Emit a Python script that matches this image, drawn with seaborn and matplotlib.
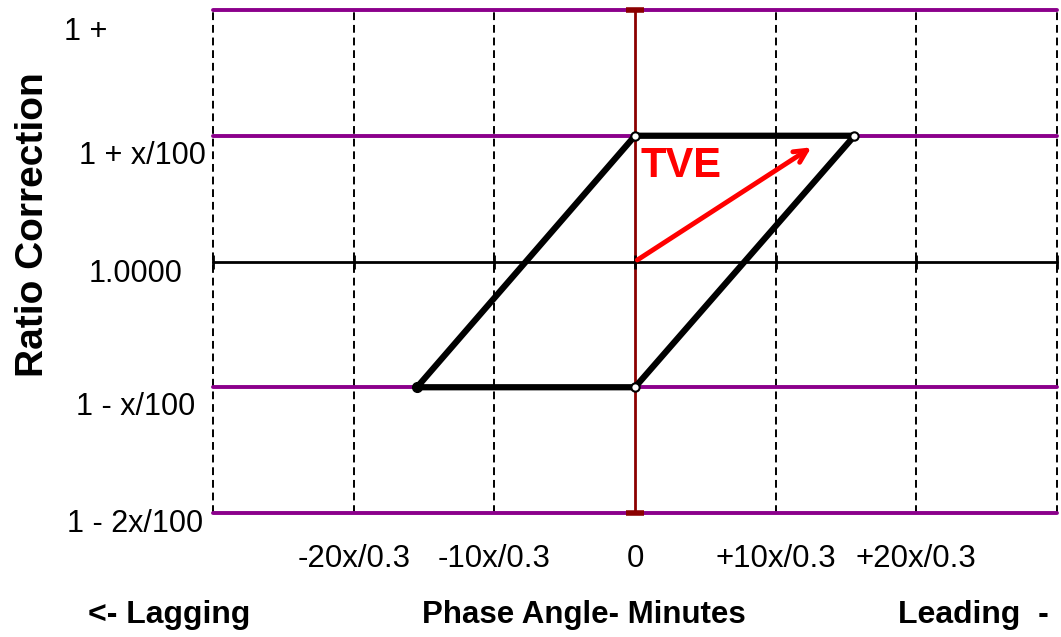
import matplotlib
matplotlib.use("agg")
import matplotlib.pyplot as plt
import matplotlib.transforms as mtransforms
import seaborn as sns
import pandas as pd

# grid positions (x in units of 10x/0.3, y in units of x/100)
x_grid = [-3, -2, -1, 1, 2, 3]
y_purple = [-2, -1, 1, 2]
y_ticks = [-2, -1, 0, 1, 2]
y_labels = ["1 - 2x/100", "1 - x/100", "1.0000", "1 + x/100", "1 +"]
x_ticks = [-2, -1, 0, 1, 2]
x_labels = ["-20x/0.3", "-10x/0.3", "0", "+10x/0.3", "+20x/0.3"]

# parallelogram outline
para_x = [0, 1.56, 0, -1.55, 0]
para_y = [1, 1, -1, -1, 1]
# TVE vector
tve_end = (1.27, 0.92)

sns.set_style("white")
plt.rcParams["font.family"] = ["Liberation Sans", "DejaVu Sans"]
plt.rcParams["text.color"] = "black"
plt.rcParams["xtick.color"] = "black"
plt.rcParams["ytick.color"] = "black"
plt.rcParams["axes.labelcolor"] = "black"

fig = plt.figure(figsize=(10.61, 6.37), dpi=100)
ax = fig.add_axes([213 / 1061, 1 - 513 / 637, (1057 - 213) / 1061, (513 - 10) / 637])
ax.set_xlim(-3, 3)
ax.set_ylim(-2, 2)
for s in ax.spines.values():
    s.set_visible(False)

for xv in x_grid:
    ax.axvline(xv, color="black", ls=(0, (4, 2.5)), lw=1.4, zorder=1, clip_on=False)
for yv in y_purple:
    ax.axhline(yv, color="#8B008B", lw=2.8, zorder=2, clip_on=False)
ax.axhline(0, color="black", lw=2, zorder=2, clip_on=False)
ax.axvline(0, color="#8B0000", lw=2, zorder=2)
for yv in (2, -2):
    ax.plot([-0.065, 0.065], [yv, yv], color="#8B0000", lw=4, zorder=3,
            clip_on=False, solid_capstyle="butt")
ax.plot(x_grid + [0], [0] * 7, ls="none", marker="|", ms=10, mew=2,
        color="black", zorder=3, clip_on=False)

df = pd.DataFrame({"x": para_x, "y": para_y})
sns.lineplot(data=df, x="x", y="y", sort=False, estimator=None, color="black",
             lw=4.5, ax=ax, zorder=4)
ax.plot(para_x[:3], para_y[:3], ls="none", marker="o", ms=6, mfc="white",
        mec="black", mew=1.5, zorder=5)
ax.plot([-1.55], [-1], ls="none", marker="o", ms=7, color="black", zorder=5)

ax.annotate("", xy=tve_end, xytext=(0, 0),
            arrowprops=dict(arrowstyle="->,head_length=0.9,head_width=0.45",
                            color="red", lw=3.5), zorder=6)
ax.text(0.04, 0.76, "TVE", color="red", fontsize=30, fontweight="bold",
        ha="left", va="center", zorder=6)

ax.set_yticks(y_ticks)
ax.set_yticklabels(y_labels, fontsize=22, ha="center")
ax.set_xticks(x_ticks)
ax.set_xticklabels(x_labels, fontsize=22.5)
ax.tick_params(axis="y", length=0, pad=56)
ax.tick_params(axis="x", length=0, pad=22)
y_shift = [(0, -0.07), (0, -0.16), (0, -0.09), (0.07, -0.17), (-0.5, -0.18)]
for lab, (dx, dy) in zip(ax.get_yticklabels(), y_shift):
    off = mtransforms.ScaledTranslation(dx, dy, fig.dpi_scale_trans)
    lab.set_transform(lab.get_transform() + off)
ax.set_xlabel("")
ax.set_ylabel("Ratio Correction", fontsize=28, fontweight="bold")
ax.yaxis.set_label_coords(-0.192, 0.573)

fig.text(88 / 1061, 1 - 615 / 637, "<- Lagging", fontsize=23, fontweight="bold",
         ha="left", va="center")
fig.text(584 / 1061, 1 - 615 / 637, "Phase Angle- Minutes", fontsize=22.5,
         fontweight="bold", ha="center", va="center")
fig.text(898 / 1061, 1 - 615 / 637, "Leading  -", fontsize=23, fontweight="bold",
         ha="left", va="center")

fig.savefig("out.png", dpi=100)
